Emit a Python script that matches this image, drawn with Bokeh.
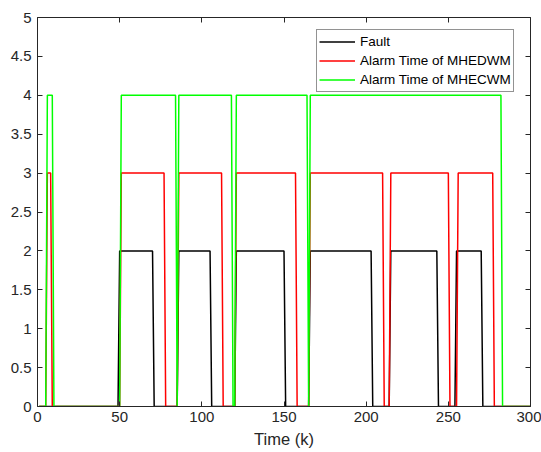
import numpy as np
from bokeh.plotting import figure
from bokeh.models import (LinearAxis, Range1d, FixedTicker, NumeralTickFormatter,
                          Legend, LegendItem)
from bokeh.embed import file_html
from bokeh.resources import INLINE

# ---- data ----
k = list(range(1, 301))

fault_level = 2
fault_start = [50, 86, 121, 166, 215, 255]
fault_end = [70, 105, 150, 203, 243, 270]

mhedwm_level = 3
mhedwm_start = [6, 51, 86, 121, 166, 215, 256]
mhedwm_end = [8, 77, 112, 157, 210, 250, 277]

mhecwm_level = 4
mhecwm_start = [6, 51, 86, 121, 166]
mhecwm_end = [9, 84, 118, 164, 282]

x_ticks = [0, 50, 100, 150, 200, 250, 300]
y_ticks = [0, 0.5, 1, 1.5, 2, 2.5, 3, 3.5, 4, 4.5, 5]

labels = ["Fault", "Alarm Time of MHEDWM", "Alarm Time of MHECWM"]
colors = ["#000000", "#ff0000", "#00ff00"]


def series(starts, ends, level):
    kk = np.array(k)
    y = np.zeros(len(kk))
    for s, e in zip(starts, ends):
        y[(kk >= s) & (kk <= e)] = level
    return y


ys = [series(fault_start, fault_end, fault_level),
      series(mhedwm_start, mhedwm_end, mhedwm_level),
      series(mhecwm_start, mhecwm_end, mhecwm_level)]

FONT = "Liberation Sans"
AX = "#262626"

p = figure(width=541, height=452, output_backend="svg", toolbar_location=None,
           x_range=Range1d(0, 300), y_range=Range1d(0, 5),
           min_border_left=37, min_border_right=11, min_border_top=17,
           min_border_bottom=46)
p.outline_line_color = None
p.xgrid.visible = False
p.ygrid.visible = False

renderers = []
for y, c in zip(ys, colors):
    r = p.line(k, y, line_color=c, line_width=1.5)
    renderers.append(r)

# main axes
p.xaxis.ticker = FixedTicker(ticks=x_ticks)
p.yaxis.ticker = FixedTicker(ticks=y_ticks)
p.yaxis.formatter = NumeralTickFormatter(format="0.[0]")
p.xaxis.axis_label = "Time (k)"

main_axes = [p.xaxis[0], p.yaxis[0]]

# box axes (ticks only) on top and right
top = LinearAxis(ticker=FixedTicker(ticks=x_ticks))
right = LinearAxis(ticker=FixedTicker(ticks=y_ticks))
for ax in (top, right):
    ax.major_label_text_color = None
    ax.major_label_standoff = 0
    ax.major_label_text_font_size = "1px"
p.add_layout(top, "above")
p.add_layout(right, "right")

for ax in main_axes + [top, right]:
    ax.major_tick_in = 5
    ax.major_tick_out = 0
    ax.minor_tick_line_color = None
    ax.axis_line_color = AX
    ax.major_tick_line_color = AX

for ax in main_axes:
    ax.major_label_text_font = FONT
    ax.major_label_text_color = AX
    ax.major_label_text_font_size = "15px"
    ax.axis_label_text_font = FONT
    ax.axis_label_text_color = AX
    ax.axis_label_text_font_style = "normal"
    ax.axis_label_text_font_size = "16.5px"

p.yaxis[0].major_label_standoff = 6
p.xaxis[0].major_label_standoff = 13
p.xaxis[0].axis_label_standoff = -6

legend = Legend(items=[LegendItem(label=l, renderers=[r]) for l, r in zip(labels, renderers)],
                location=(279, 314))
legend.label_text_font = FONT
legend.label_text_font_size = "13.5px"
legend.label_text_color = "#000000"
legend.glyph_width = 36
legend.glyph_height = 19
legend.label_height = 19
legend.spacing = 0
legend.padding = 2
legend.margin = 0
legend.label_standoff = 5
legend.border_line_color = AX
legend.border_line_width = 1
legend.background_fill_color = "white"
legend.background_fill_alpha = 1
p.add_layout(legend)

open("out.html", "w").write(file_html(p, INLINE))
